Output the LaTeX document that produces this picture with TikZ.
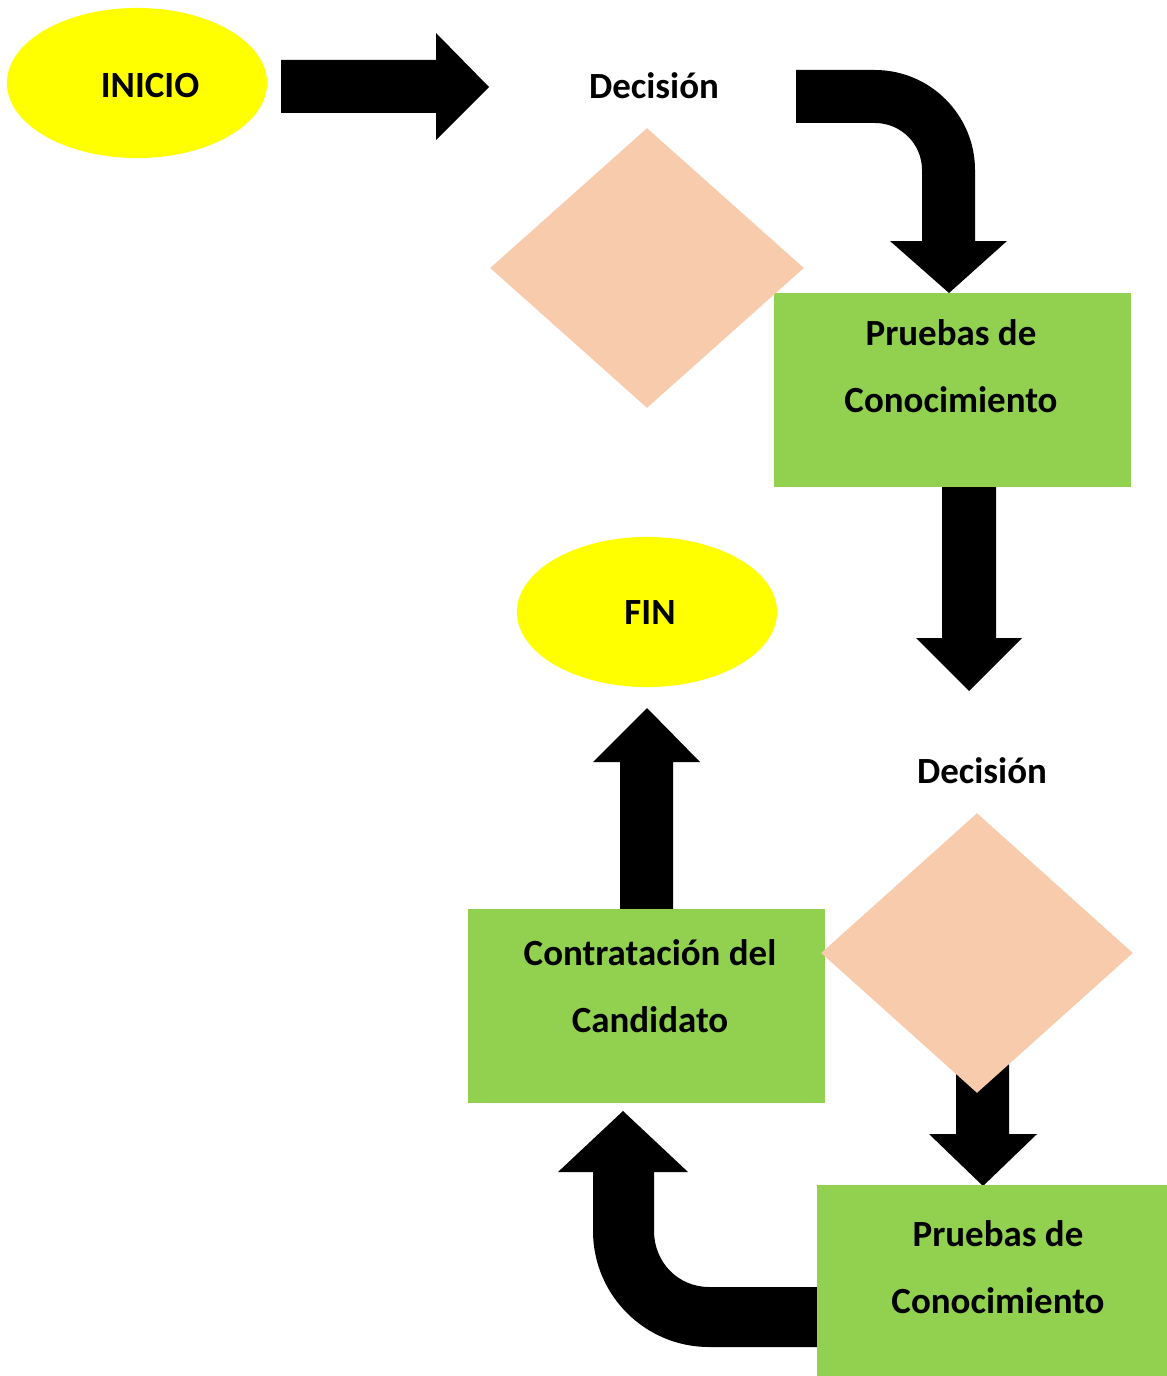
\documentclass[tikz,border=0pt]{standalone}
\usepackage{fontspec}
\setmainfont{Carlito}
\usetikzlibrary{shapes.geometric}
\definecolor{amarillo}{HTML}{FFFF00}
\definecolor{durazno}{HTML}{F8CBAD}
\definecolor{verde}{HTML}{92D050}
\tikzset{
  terminal/.style={ellipse, fill=amarillo, inner sep=0pt, minimum width=2.6cm, minimum height=1.5cm},
  decision/.style={diamond, fill=durazno, inner sep=0pt},
  proceso/.style={rectangle, fill=verde, inner sep=0pt, minimum width=3.57cm, minimum height=1.94cm},
  texto/.style={font=\fontsize{10.5}{19}\selectfont\bfseries, align=center},
  flecha/.style={fill=black}
}
\begin{document}
\begin{tikzpicture}[x=0.01cm, y=-0.01cm, line join=miter]
	\useasboundingbox (0,0) rectangle (1167,1376);
	% flechas
	\fill[flecha] (281,60)--(436,60)--(436,33)--(489,87)--(436,140)--(436,113)--(281,113)--cycle;
	\fill[flecha] (796,70)--(875,70) .. controls (930,70) and (975,115) .. (975,170)
		--(975,241)--(1007,241)--(949,293)--(890,241)--(922,241)--(922,170)
		.. controls (922,144) and (901,123) .. (875,123)--(796,123)--cycle;
	\fill[flecha] (942,480)--(996,480)--(996,638)--(1022,638)--(969,691)--(916,638)--(942,638)--cycle;
	\fill[flecha] (956,1060)--(1009,1060)--(1009,1134)--(1037,1134)--(983,1186)--(929,1134)--(956,1134)--cycle;
	\fill[flecha] (819,1287)--(709,1287) .. controls (678,1287) and (654,1262) .. (654,1231)
		--(654,1172)--(688,1172)--(623,1111)--(558,1172)--(593,1172)--(593,1231)
		.. controls (593,1295) and (645,1347) .. (709,1347)--(819,1347)--cycle;
	\fill[flecha] (620,915)--(620,762)--(593,762)--(647,708)--(700,762)--(673,762)--(673,915)--cycle;

	% cajas y rombos
	\node[proceso] (pruebas1) at (952.5,390) {};
	\node[proceso, minimum width=3.5cm, minimum height=1.92cm] (pruebas2) at (992,1281) {};
	\node[proceso] (contrata) at (646.5,1006) {};
	\node[decision, minimum width=3.14cm, minimum height=2.8cm] (rombo1) at (647,268) {};
	\node[decision, minimum width=3.12cm, minimum height=2.8cm] (rombo2) at (977,953) {};
	\node[terminal] (inicio) at (137,83) {};
	\node[terminal] (fin) at (647,612) {};

	% textos
	\node[texto] at (150,86) {INICIO};
	\node[texto] at (650,613) {FIN};
	\node[texto] at (654,86) {Decisión};
	\node[texto] at (982,771) {Decisión};
	\node[texto] at (951,366) {Pruebas de\\Conocimiento};
	\node[texto] at (998,1267) {Pruebas de\\Conocimiento};
	\node[texto] at (650,986) {Contratación del\\Candidato};
\end{tikzpicture}
\end{document}
